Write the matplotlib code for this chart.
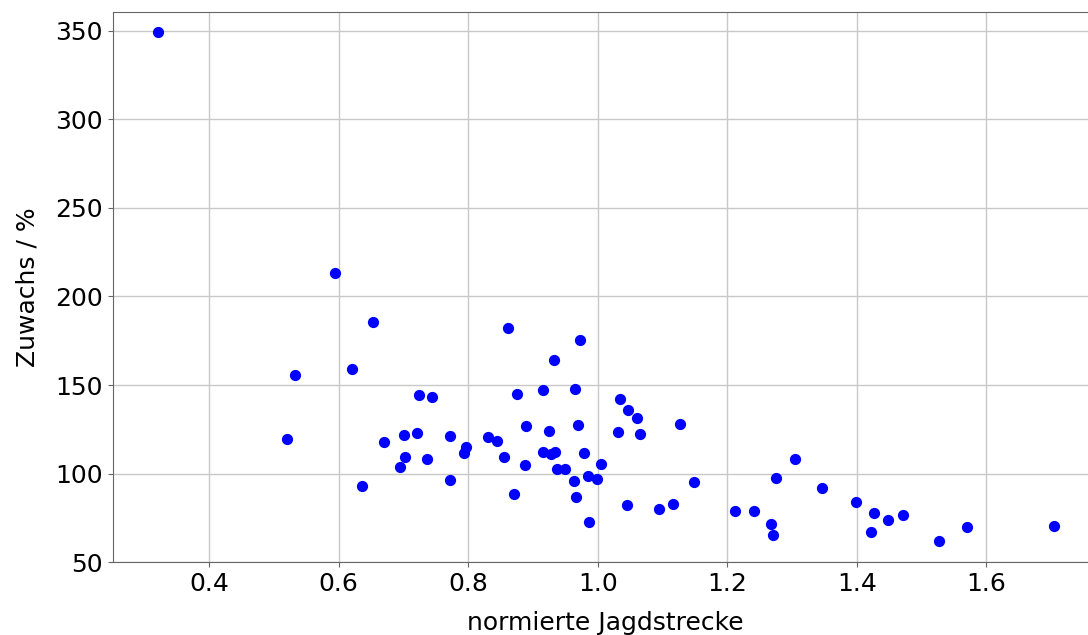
import matplotlib
matplotlib.use('Agg')
import matplotlib.pyplot as plt

# normierte Jagdstrecke und Zuwachs in Prozent
jagdstrecke = [
    0.321, 0.520, 0.533, 0.594, 0.620, 0.636, 0.653, 0.670, 0.695, 0.701,
    0.703, 0.721, 0.724, 0.736, 0.744, 0.771, 0.772, 0.793, 0.797, 0.830,
    0.844, 0.855, 0.862, 0.871, 0.875, 0.888, 0.889, 0.915, 0.915, 0.925,
    0.927, 0.932, 0.934, 0.937, 0.950, 0.963, 0.965, 0.967, 0.970, 0.973,
    0.978, 0.985, 0.986, 0.999, 1.005, 1.032, 1.034, 1.045, 1.047, 1.061,
    1.065, 1.094, 1.116, 1.127, 1.149, 1.212, 1.241, 1.267, 1.271, 1.276,
    1.304, 1.347, 1.399, 1.422, 1.426, 1.448, 1.471, 1.527, 1.571, 1.705,
]
zuwachs = [
    349.3, 119.4, 155.5, 213.3, 158.9, 93.2, 185.6, 118.1, 104.0, 121.8,
    109.6, 123.1, 144.2, 108.1, 143.3, 121.1, 96.3, 111.7, 115.1, 120.9,
    118.3, 109.6, 182.4, 88.4, 145.1, 104.9, 126.7, 147.2, 112.4, 124.1,
    111.1, 164.0, 112.1, 102.7, 102.7, 95.7, 147.8, 87.0, 127.7, 175.3,
    111.7, 98.5, 72.7, 96.8, 105.6, 123.5, 142.3, 82.3, 135.8, 131.7,
    122.2, 79.9, 82.7, 128.2, 95.5, 79.0, 78.8, 71.8, 65.2, 97.4,
    108.3, 92.0, 83.9, 67.1, 78.0, 73.9, 76.9, 61.9, 70.1, 70.3,
]

fig = plt.figure(figsize=(10.88, 6.35), dpi=100)
ax = fig.add_axes([0.1036, 0.1145, 0.9064, 0.8671])

ax.scatter(jagdstrecke, zuwachs, s=50, color='blue', zorder=3)

ax.set_xlim(0.2508, 1.774)
ax.set_ylim(50, 360.7)
ax.set_xticks([0.4, 0.6, 0.8, 1.0, 1.2, 1.4, 1.6])
ax.set_yticks([50, 100, 150, 200, 250, 300, 350])

ax.grid(True, color='#c8c8c8', linewidth=1)
ax.set_axisbelow(True)
for side in ['top', 'bottom', 'left', 'right']:
    ax.spines[side].set_color('0.4')
ax.tick_params(labelsize=18, color='0.4')

ax.set_xlabel('normierte Jagdstrecke', fontsize=18, labelpad=11)
ax.set_ylabel('Zuwachs / %', fontsize=18, labelpad=11)

plt.savefig('out.png', dpi=100)
